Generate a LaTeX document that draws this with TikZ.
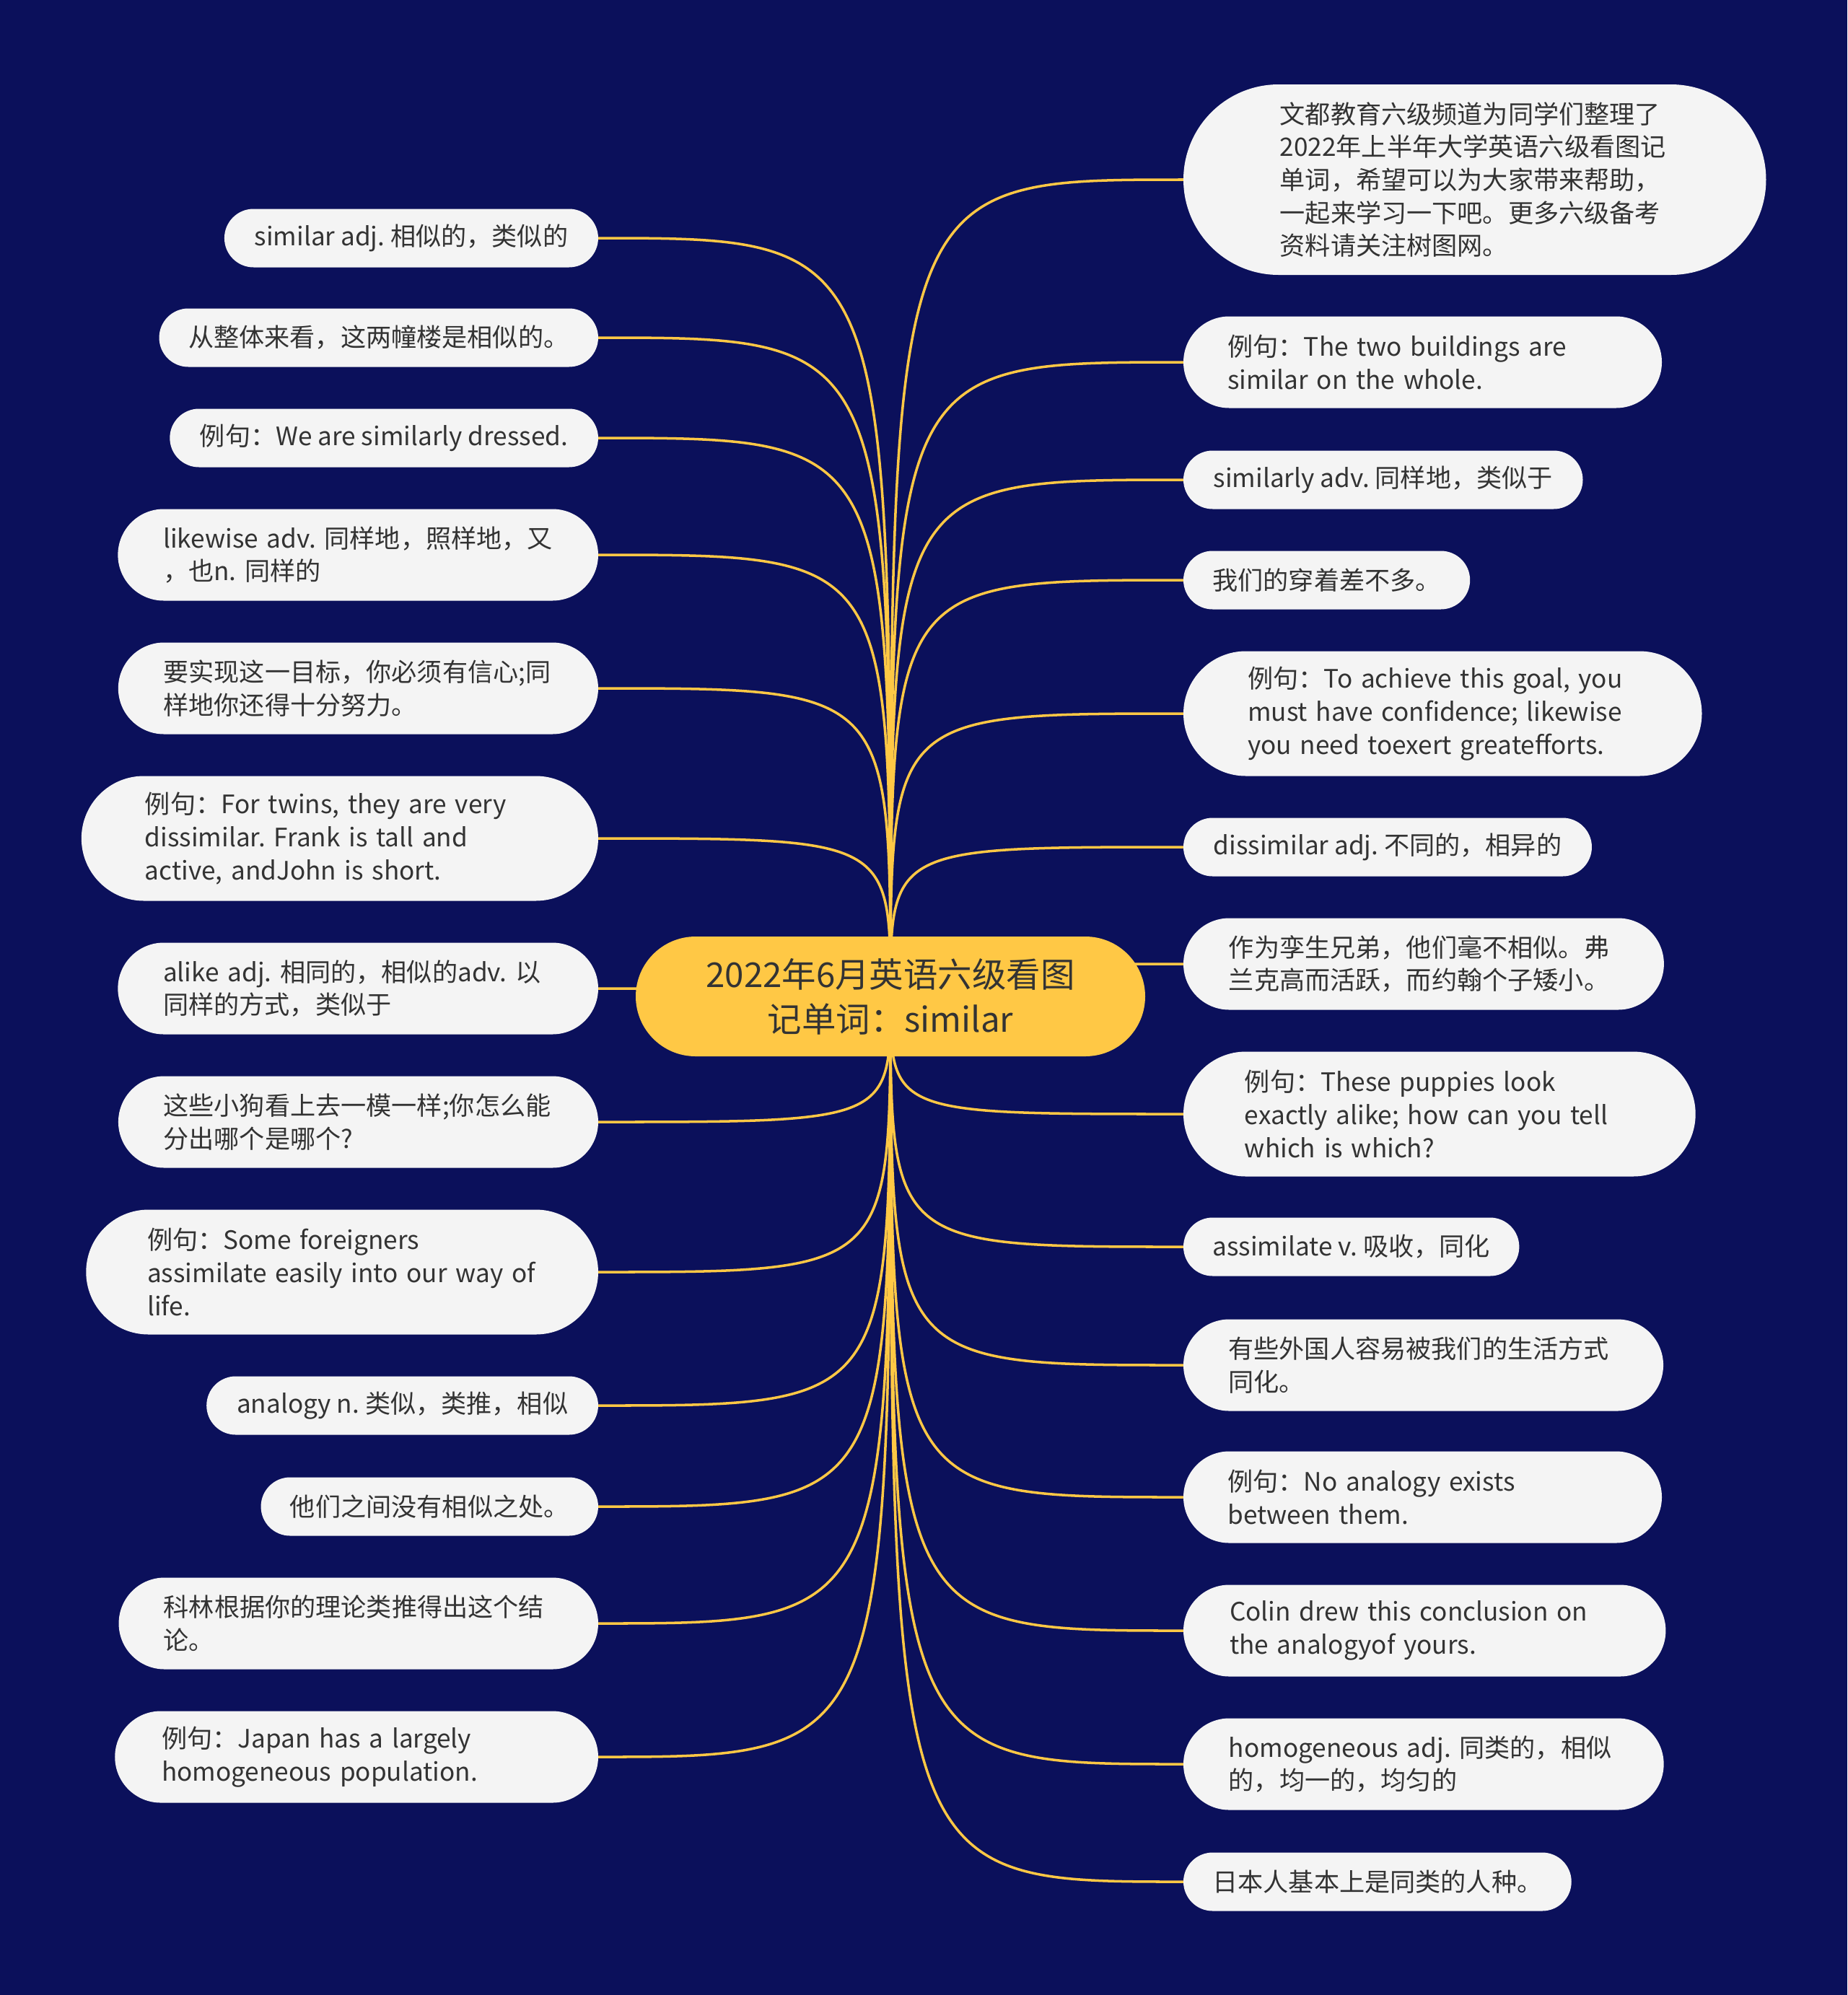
\documentclass[tikz,border=0pt]{standalone}
\usepackage{fontspec}
\setmainfont{Noto Sans CJK SC}
\usetikzlibrary{shapes.misc}
\definecolor{navy}{HTML}{0B105B}
\definecolor{gold}{HTML}{FFC845}
\definecolor{leafgray}{HTML}{F4F4F4}
\definecolor{ink}{HTML}{333333}
\pgfdeclarelayer{background}
\pgfsetlayers{background,main}
\tikzset{
  every node/.style = {inner sep=0, outer sep=0},
  root/.style = {rounded rectangle, fill=gold, text=ink, align=center,
    minimum width=7.06cm, minimum height=1.66cm, font=\fontsize{13.5}{17.6}\selectfont},
  leaf/.style = {rounded rectangle, fill=leafgray, text=ink, align=left,
    font=\fontsize{10}{13}\selectfont\frenchspacing},
  one/.style = {leaf, minimum height=0.81cm, inner xsep=0.37cm},
  two/.style = {leaf, text width=5.40cm, minimum height=1.27cm, inner xsep=0.49cm},
  three/.style = {leaf, text width=5.40cm, minimum height=1.73cm, inner xsep=0.60cm},
  five/.style = {leaf, text width=5.40cm, minimum height=2.64cm, inner xsep=0.78cm},
  link/.style = {gold, line width=1pt}
}

\begin{document}
\begin{tikzpicture}[y=-1cm]
  \useasboundingbox (0,0) rectangle (25.6,27.65);
  \node[root] (c) at (12.34,13.81) {2022年6月英语六级看图\\记单词：similar};
  % left side
  \node[one, anchor=east] (l1) at (8.29,3.30) {similar adj. 相似的，类似的};
  \node[one, anchor=east] (l2) at (8.29,4.68) {从整体来看，这两幢楼是相似的。};
  \node[one, anchor=east] (l3) at (8.29,6.07) {例句：We are similarly dressed.};
  \node[two, anchor=east] (l4) at (8.29,7.69) {likewise~adv.~同样地，照样地，又\\，也n. 同样的};
  \node[two, anchor=east] (l5) at (8.29,9.54) {要实现这一目标，你必须有信心;同\\样地你还得十分努力。};
  \node[three, anchor=east] (l6) at (8.29,11.62) {例句：For twins, they are very\\dissimilar. Frank is tall and\\active, andJohn is short.};
  \node[two, anchor=east] (l7) at (8.29,13.70) {alike~adj.~相同的，相似的adv.~以\\同样的方式，类似于};
  \node[two, anchor=east] (l8) at (8.29,15.55) {这些小狗看上去一模一样;你怎么能\\分出哪个是哪个?};
  \node[three, anchor=east] (l9) at (8.29,17.63) {例句：Some foreigners\\assimilate easily into our way of\\life.};
  \node[one, anchor=east] (l10) at (8.29,19.48) {analogy n. 类似，类推，相似};
  \node[one, anchor=east] (l11) at (8.29,20.88) {他们之间没有相似之处。};
  \node[two, anchor=east] (l12) at (8.29,22.50) {科林根据你的理论类推得出这个结\\论。};
  \node[two, anchor=east] (l13) at (8.29,24.35) {例句：Japan has a largely\\homogeneous population.};
  % right side
  \node[five, anchor=west] (r1) at (16.40,2.49) {文都教育六级频道为同学们整理了\\2022年上半年大学英语六级看图记\\单词，希望可以为大家带来帮助，\\一起来学习一下吧。更多六级备考\\资料请关注树图网。};
  \node[two, anchor=west] (r2) at (16.40,5.02) {例句：The two buildings are\\similar on the whole.};
  \node[one, anchor=west] (r3) at (16.40,6.65) {similarly adv. 同样地，类似于};
  \node[one, anchor=west] (r4) at (16.40,8.04) {我们的穿着差不多。};
  \node[three, anchor=west] (r5) at (16.40,9.89) {例句：To achieve this goal, you\\must have confidence; likewise\\you need toexert greatefforts.};
  \node[one, anchor=west] (r6) at (16.40,11.74) {dissimilar adj. 不同的，相异的};
  \node[two, anchor=west] (r7) at (16.40,13.36) {作为孪生兄弟，他们毫不相似。弗\\兰克高而活跃，而约翰个子矮小。};
  \node[three, anchor=west] (r8) at (16.40,15.44) {例句：These puppies look\\exactly alike; how can you tell\\which is which?};
  \node[one, anchor=west] (r9) at (16.40,17.28) {assimilate v. 吸收，同化};
  \node[two, anchor=west] (r10) at (16.40,18.92) {有些外国人容易被我们的生活方式\\同化。};
  \node[two, anchor=west] (r11) at (16.40,20.75) {例句：No analogy exists\\between them.};
  \node[two, anchor=west] (r12) at (16.40,22.60) {Colin drew this conclusion on\\the analogyof yours.};
  \node[two, anchor=west] (r13) at (16.40,24.45) {homogeneous~adj.~同类的，相似\\的，均一的，均匀的};
  \node[one, anchor=west] (r14) at (16.40,26.08) {日本人基本上是同类的人种。};
  \begin{pgfonlayer}{background}
    \fill[navy] (0,0) rectangle (25.6,27.65);
    \foreach \i in {1,...,13}
      \draw[link] (c.center) .. controls (c.center |- l\i.east) .. (l\i.east);
    \foreach \i in {1,...,14}
      \draw[link] (c.center) .. controls (c.center |- r\i.west) .. (r\i.west);
  \end{pgfonlayer}
\end{tikzpicture}
\end{document}
